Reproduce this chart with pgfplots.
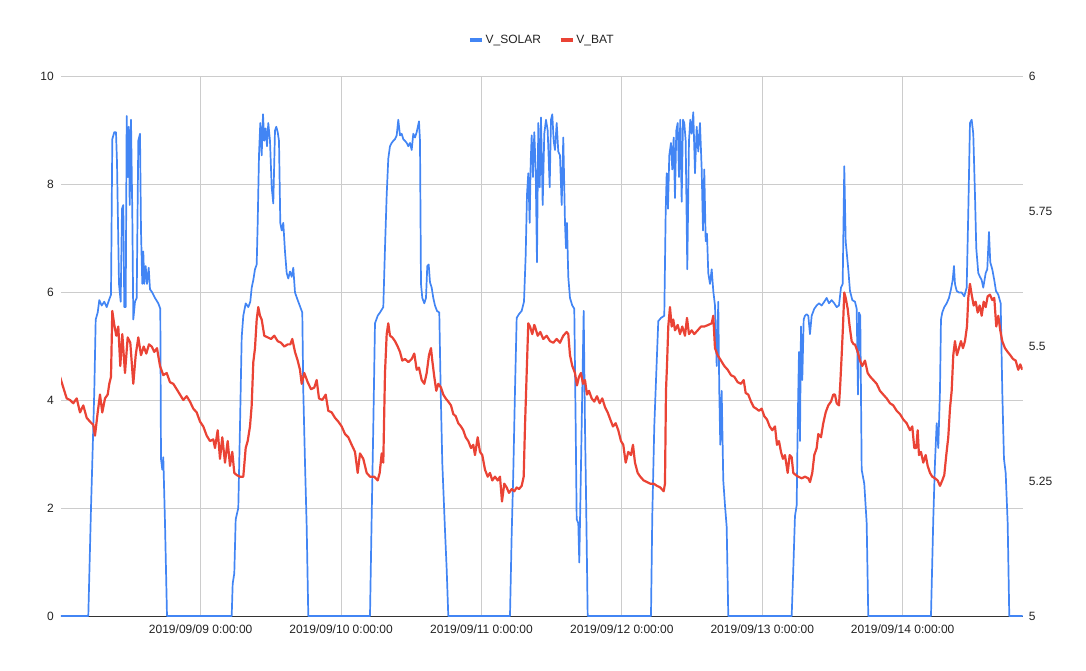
\documentclass[border=0pt]{standalone}
\usepackage{fontspec}
\setmainfont{Liberation Sans}
\usepackage{pgfplots}
\usepackage{pgfplotstable}
\pgfplotsset{compat=1.18}
\definecolor{solarblue}{HTML}{4285F4}
\definecolor{batred}{HTML}{EA4335}
\definecolor{gridgray}{HTML}{CCCCCC}
\definecolor{axisgray}{HTML}{333333}
\definecolor{labelgray}{HTML}{222222}

% X = horizontal position, V = value
\pgfplotstableread{
X V
61 0
88.3 0
91 2.0
92.3 2.84
94.3 4.17
95.7 5.49
97.7 5.62
99.3 5.85
101.7 5.75
104.3 5.82
106.7 5.72
109 5.85
111 5.95
112.3 8.83
114.3 8.96
116 8.96
117 8.40
119 6.15
120.7 5.82
122 7.54
123.3 7.61
124.3 5.72
125.7 5.72
126.7 9.26
127.7 8.13
128.7 9.06
129.7 7.61
131 9.19
132.3 7.47
133.3 5.49
135 5.82
136.7 5.89
138.3 8.80
140 8.93
141 7.14
142.3 6.15
143.3 6.75
144.3 6.15
145.7 6.48
147 6.15
148.7 6.45
150 6.05
152.3 5.99
155 5.89
158.3 5.79
160.3 5.69
161 2.91
162.3 2.71
163.3 2.94
165 1.72
167 0
231.7 0
232.7 0.6
234.3 0.79
235.7 1.79
238.3 2.0
240 3.51
241.7 5.16
243.3 5.56
245.7 5.79
248.3 5.72
250.3 5.82
251.7 6.08
253.3 6.22
255 6.42
256.7 6.51
257.7 7.28
259 8.53
260.3 9.13
261.7 8.53
263 9.29
264.3 8.80
265.7 9.03
267 8.70
268.3 9.13
270 8.80
271.7 7.94
273.3 7.64
275 8.99
276.3 9.06
277.7 8.96
279 8.80
280.3 7.28
281.7 7.14
283.3 7.28
285 6.75
286.7 6.35
288.3 6.25
290 6.38
291.7 6.28
293.3 6.45
295 5.99
297.7 5.85
300.3 5.72
302.3 5.62
303.3 4.17
305 2.84
306.7 1.65
308.3 0
370 0
371.7 1.85
373.3 3.5
375 5.42
377.7 5.56
380 5.62
383.3 5.72
385 6.81
386.7 7.80
388.3 8.47
390 8.70
391.7 8.76
393.3 8.80
395 8.83
396.7 8.90
398.3 9.19
400 8.90
401.7 8.93
403.3 8.83
405 8.80
406.7 8.76
408.3 8.70
410 8.76
411.7 8.63
413.3 8.93
415 8.86
416.7 8.96
419 9.16
420 8.80
421 6.15
422.3 5.89
424.3 5.79
426 5.89
427.3 6.48
428.7 6.51
430 6.18
431.7 6.08
433.3 5.89
435 5.75
437 5.65
439.3 5.62
440.7 4.17
442.3 2.84
445 1.59
446.7 0.86
448.3 0
510 0
511.7 1.52
513.3 2.65
515 4.17
516.7 5.52
519 5.59
521.7 5.65
524 5.82
525.7 6.68
527 7.80
528.3 8.20
529.7 7.28
530.7 8.40
531.7 8.90
533 8.13
534.3 8.96
535.7 8.27
537 6.55
538.3 9.13
539.7 7.94
541 9.23
542.7 7.61
544.3 8.93
546 9.19
547.7 8.99
549.7 7.94
551 9.19
552.3 9.29
553.7 8.80
555 8.63
556.7 9.13
558.3 8.60
560 8.53
561.7 7.61
563.3 8.86
565 7.28
566 6.81
567 7.28
568.3 6.28
570 5.89
572.3 5.75
574.3 5.69
575.7 3.51
576.7 1.79
578.3 1.72
579.3 0.99
580.7 2.45
582.3 4.17
583.7 5.65
585 3.51
586 2.31
587.7 0
651 0
652.3 1.85
654.3 3.51
656.3 4.50
658.3 5.46
661 5.52
664.3 5.56
665.7 7.47
666.7 8.20
668 7.54
669.3 8.53
671 8.76
672.3 8.27
673.7 8.86
675 7.74
676.3 8.99
677.7 9.13
679 8.13
680.3 9.19
681.7 7.67
683 9.19
684.3 9.13
685.7 8.80
687.3 6.42
689 8.80
690.3 9.19
691.7 8.93
693.3 9.33
695 8.20
696.7 9.06
698.3 8.60
700 9.13
701.7 8.27
703 7.14
704.3 8.27
705.7 6.94
707 7.08
708.3 6.35
710 6.15
711.7 6.42
713.3 6.02
715 5.75
716.7 4.63
718.3 5.82
719.3 4.17
720.3 3.17
721.7 4.17
723.3 2.51
725 2.05
726.7 1.65
728.3 0
791.7 0
793.3 0.86
795 1.85
796.7 2.05
797.7 3.51
799 4.89
800 3.24
801 5.36
802.3 4.37
803.7 5.49
805 5.56
806.7 5.59
808.3 5.56
810 5.22
811.7 5.56
814.3 5.69
816.7 5.75
819 5.79
821.7 5.75
824.3 5.82
826.7 5.89
829 5.79
831.7 5.85
834.3 5.79
836.7 5.72
839 5.75
841 6.08
842.7 6.15
844.3 8.33
845.7 6.94
847 6.68
848.3 6.42
850 6.02
852.3 5.85
855 5.82
856.7 5.69
858 4.10
859 5.62
860.3 5.56
861.7 2.71
864.3 2.45
866.7 1.72
868.3 0
931 0
933.3 1.79
935 2.84
936.7 3.57
938.3 3.11
940 4.17
941 5.49
942.3 5.62
944.3 5.72
946.7 5.79
949 5.89
951 6.05
952.7 6.22
954 6.48
955 6.15
956.7 6.02
959 5.99
961.7 5.99
964.3 5.92
966.7 6.08
968.3 7.47
970 9.13
971.7 9.19
973.3 8.93
975 7.80
976.3 6.81
978.3 6.35
980 6.28
981.7 6.22
983.3 6.08
985.7 6.35
987.3 6.42
989 7.11
990.3 6.55
992.3 6.42
994.3 6.22
996 6.02
998.3 5.95
1000.7 5.79
1002.3 4.17
1004 2.91
1005.7 2.65
1007.7 1.72
1009.3 0
1022.7 0
}\solar

\pgfplotstableread{
X V
60 5.443
63.3 5.423
66.7 5.403
70 5.400
73.3 5.394
76.7 5.403
80 5.377
83.3 5.390
86.7 5.367
90 5.360
93.3 5.354
95 5.334
97.7 5.377
100 5.410
102.3 5.377
105 5.403
107.7 5.410
109.3 5.430
111 5.443
112.3 5.565
114.3 5.539
116.3 5.519
118.3 5.536
120.3 5.463
122.3 5.522
125 5.450
127.7 5.516
130.3 5.506
133.3 5.430
135.7 5.483
138.3 5.516
141 5.483
143.7 5.499
146.3 5.486
149 5.503
151.7 5.499
154.3 5.489
157 5.496
160 5.463
163.3 5.446
166.7 5.450
170 5.433
173.3 5.430
176.7 5.420
180 5.410
183.3 5.400
186.7 5.407
190 5.397
193.3 5.384
196.7 5.377
200 5.360
203.3 5.351
206.7 5.334
210 5.324
213.3 5.327
215 5.311
217.7 5.344
220 5.291
222.3 5.331
225 5.284
227.7 5.324
230 5.278
232.3 5.304
234.3 5.265
236.7 5.261
240 5.258
243.3 5.258
245.7 5.311
247.7 5.324
250 5.351
251.7 5.390
253.3 5.470
255 5.496
256.7 5.549
258.3 5.572
260 5.556
261.7 5.549
264.3 5.519
267.7 5.516
271 5.513
274.3 5.519
277.7 5.509
281 5.506
284.3 5.499
287.7 5.503
290.3 5.503
292.3 5.513
295 5.489
297.7 5.473
300 5.456
301.7 5.430
304.3 5.450
307.7 5.433
311 5.420
314.3 5.423
316.7 5.437
319 5.403
322.3 5.400
325.7 5.410
328.3 5.380
331.7 5.377
335 5.367
338.3 5.360
341.7 5.351
345 5.337
348.3 5.331
351.7 5.317
355 5.304
357.7 5.265
360 5.301
363.3 5.291
366.7 5.265
370 5.258
374.3 5.258
377.7 5.251
379.7 5.265
381.7 5.301
383.3 5.284
385 5.450
386.7 5.522
388.3 5.542
390 5.519
392.3 5.516
395 5.509
397.7 5.499
400 5.489
402.3 5.473
405 5.476
408.3 5.470
411.7 5.476
414.3 5.486
416.7 5.456
419 5.460
421.7 5.437
424.3 5.430
426.7 5.450
429 5.483
431 5.496
432.3 5.473
434.3 5.443
436.3 5.417
438.3 5.430
441 5.423
443.3 5.410
445.7 5.403
448.3 5.397
451 5.390
453.3 5.374
455.7 5.370
458.3 5.357
461 5.351
463.3 5.344
465.7 5.331
468.3 5.324
471 5.311
473.3 5.317
475 5.298
477.7 5.331
480 5.304
482.3 5.298
485 5.271
487.7 5.258
490 5.265
492.3 5.251
495 5.258
497.7 5.251
500 5.258
502 5.212
504.3 5.245
506.7 5.238
509 5.228
511.7 5.235
514.3 5.231
516.7 5.238
519 5.235
521.7 5.241
523.7 5.258
525 5.351
526.7 5.450
528.3 5.542
530 5.536
532.3 5.522
534.3 5.539
535 5.536
537.7 5.519
540.3 5.526
543.3 5.513
546.7 5.519
550 5.509
553.3 5.506
556.7 5.513
560 5.506
563.3 5.519
566.7 5.526
568.3 5.522
570 5.483
572.3 5.463
575 5.450
577 5.427
579 5.443
581 5.450
583 5.430
585 5.437
587 5.410
589 5.417
591.7 5.403
594.3 5.397
597 5.407
599.7 5.394
602.3 5.403
605 5.387
607.7 5.377
610.3 5.364
613 5.351
615.7 5.357
618.3 5.344
621 5.324
623.3 5.317
625.7 5.284
628.3 5.304
631 5.298
633 5.317
635 5.284
637.7 5.265
640.3 5.258
643.7 5.251
647 5.248
650.3 5.245
653.7 5.245
657 5.241
660.3 5.238
663.7 5.231
665 5.245
666 5.417
667 5.463
668.3 5.536
670 5.572
671.7 5.536
673.3 5.549
675 5.529
677.7 5.539
680 5.522
682.3 5.536
685 5.519
687 5.552
689 5.522
691.7 5.529
694.3 5.522
697.7 5.529
701 5.536
704.3 5.536
708.3 5.539
711.7 5.542
713.3 5.556
715 5.496
717.7 5.483
721 5.473
724.3 5.463
727.7 5.456
731 5.446
734.3 5.443
737.7 5.433
741 5.430
743.7 5.437
745.7 5.413
748.3 5.410
751 5.397
753.7 5.387
756.3 5.384
759 5.380
761.7 5.384
764.3 5.370
767 5.364
769.7 5.351
772.3 5.344
775 5.351
777 5.317
779 5.324
781 5.304
783 5.291
785 5.298
787.7 5.265
789.7 5.298
791.7 5.294
793.3 5.265
795.7 5.261
798.3 5.258
801.7 5.255
805 5.258
808.3 5.255
810 5.248
812.3 5.265
814.3 5.298
816.7 5.311
818.3 5.337
821 5.331
823.3 5.357
825.7 5.377
828.3 5.390
831 5.397
833.3 5.410
835 5.410
836.7 5.394
839 5.390
840.3 5.430
841.7 5.483
843 5.536
844.3 5.599
845.7 5.589
847.7 5.569
849.7 5.536
851.7 5.509
853.7 5.503
855 5.503
857.7 5.489
860 5.473
862.3 5.463
865 5.473
867.7 5.450
870.3 5.443
873.3 5.437
876.7 5.430
880 5.417
883.3 5.410
886.7 5.403
890 5.394
893.3 5.390
896.7 5.380
900 5.374
903.3 5.364
906.7 5.357
910 5.344
912.3 5.351
914.3 5.311
916.3 5.311
917.7 5.344
919 5.298
921 5.304
923.3 5.284
925.7 5.298
927.7 5.278
930 5.265
932.3 5.258
935 5.255
937.7 5.251
940 5.241
942.3 5.251
944.3 5.261
946.3 5.298
948.3 5.331
950 5.384
951.7 5.417
953.3 5.483
955 5.509
957 5.483
959 5.496
961 5.509
963 5.496
965 5.509
967 5.536
968.3 5.589
970 5.615
971.7 5.595
973.7 5.575
975.7 5.582
977.7 5.562
979.7 5.575
981.7 5.556
983.7 5.582
985.7 5.572
987.7 5.592
990 5.595
992.3 5.585
994.3 5.589
996.3 5.536
998.3 5.556
1000.3 5.529
1002.3 5.509
1005 5.496
1007.7 5.489
1010.3 5.483
1013 5.476
1015.7 5.473
1018.3 5.456
1020.3 5.466
1022.3 5.456
}\bat

\begin{document}
\begin{tikzpicture}
\useasboundingbox (0,0) rectangle (1086pt,671pt);
% left axis: grid, V_SOLAR
\begin{axis}[
  at={(61pt,55pt)}, anchor=south west,
  scale only axis, width=961.7pt, height=540pt,
  xmin=-0.995, xmax=5.855, ymin=0, ymax=10,
  xtick={0,1,2,3,4,5},
  xticklabels={2019/09/09 0:00:00,2019/09/10 0:00:00,2019/09/11 0:00:00,2019/09/12 0:00:00,2019/09/13 0:00:00,2019/09/14 0:00:00},
  ytick={0,2,4,6,8,10},
  yticklabels={0,2,4,6,8,10},
  /pgf/number format/assume math mode=true,
  xmajorgrids, ymajorgrids,
  grid style={draw=gridgray, line width=0.8pt},
  axis x line*=bottom, axis y line*=left,
  x axis line style={draw=axisgray, line width=0.9pt},
  y axis line style={draw=none},
  major tick length=0pt,
  tick label style={font=\fontsize{12}{14}\selectfont, text=labelgray, inner sep=0pt},
  xticklabel style={anchor=north, yshift=-9pt},
  yticklabel style={anchor=east, xshift=-7pt},
  legend style={draw=none, fill=none, at={(0.5,1.0667)}, anchor=center,
    font=\fontsize{12}{14}\selectfont, text=labelgray,
    /tikz/every even column/.append style={column sep=16pt}},
  legend columns=2,
  legend image code/.code={\draw[#1, line width=3.5pt] (0pt,0pt) -- (12pt,0pt);},
  clip=false,
]
\addplot[solarblue, line width=1.7pt, line join=round] table[x expr=(\thisrow{X}-200.7)/140.4, y=V] {\solar};
\addlegendentry{V\_SOLAR}
\addlegendimage{batred}
\addlegendentry{V\_BAT}
\end{axis}
% right axis: V_BAT
\begin{axis}[
  at={(61pt,55pt)}, anchor=south west,
  scale only axis, width=961.7pt, height=540pt,
  xmin=-0.995, xmax=5.855, ymin=5, ymax=6,
  hide x axis,
  axis y line*=right,
  y axis line style={draw=none},
  ytick={5,5.25,5.5,5.75,6},
  yticklabels={5,5.25,5.5,5.75,6},
  /pgf/number format/assume math mode=true,
  major tick length=0pt,
  tick label style={font=\fontsize{12}{14}\selectfont, text=labelgray, inner sep=0pt},
  yticklabel style={anchor=west, xshift=6pt},
]
\addplot[batred, line width=2.2pt, line join=round] table[x expr=(\thisrow{X}-200.7)/140.4, y=V] {\bat};
\end{axis}
\end{tikzpicture}
\end{document}
